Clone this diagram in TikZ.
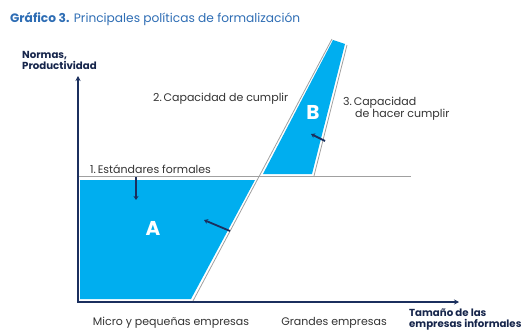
\documentclass[tikz,border=0pt]{standalone}
\usepackage{fontspec}
\setmainfont{Poppins}
\usepackage{tikz}
\usetikzlibrary{calc,positioning,arrows.meta}
\definecolor{chartblue}{HTML}{00AEEF}
\definecolor{chartnavy}{HTML}{1B2F5E}
\definecolor{titleblue}{HTML}{2E6DB4}
\definecolor{linegray}{HTML}{A0A0A0}
\definecolor{labelgray}{HTML}{333333}

\begin{document}
\begin{tikzpicture}[x=1pt, y=-1pt,
    lbl/.style={text=labelgray, font=\fontsize{11}{12}\selectfont, inner sep=0pt},
    axlbl/.style={text=chartnavy!80!black, font=\fontsize{10.2}{11.5}\selectfont\bfseries, inner sep=0pt, align=left},
    zone/.style={text=white, font=\fontsize{20}{20}\selectfont\bfseries},
    guide/.style={draw=linegray, line width=0.8pt},
    push/.style={draw=chartnavy, line width=1.8pt, -{Stealth[length=4pt,width=5pt]}}]
  \useasboundingbox (0,0) rectangle (523,332);

  % title
  \node[anchor=west, inner sep=0pt, text=titleblue, font=\fontsize{12.2}{14}\selectfont] (title) at (10,19)
    {\textbf{Gráfico 3.} Principales políticas de formalización};

  % shaded regions
  \fill[chartblue] (80,180) -- (255,180) -- (191,299) -- (80,299) -- cycle;
  \fill[chartblue] (333,40) -- (345,44) -- (312,174) -- (263,174) -- cycle;

  % guide lines
  \coordinate (stdL) at (78,176);
  \coordinate (stdR) at (411,176);
  \coordinate (capBot) at (193,301);
  \coordinate (capTop) at (332,39);
  \coordinate (enfTop) at (347,45);
  \coordinate (enfBot) at (314,176);
  \draw[guide] (stdL) -- (stdR);
  \draw[guide] (capBot) -- (capTop);
  \draw[guide] (enfTop) -- (enfBot);

  % axes
  \coordinate (ytop) at (78,76);
  \coordinate (xend) at (459,302);
  \draw[chartnavy, line width=1.3pt, {Stealth[length=5pt,width=5pt]}-{Stealth[length=5pt,width=5pt]}] (ytop) |- (xend);

  % shifts
  \coordinate (a1s) at (136,177);
  \coordinate (a1e) at (136,200);
  \coordinate (a2s) at (230,231);
  \coordinate (a2e) at (204,220);
  \coordinate (b1s) at (325,141);
  \coordinate (b1e) at (311,134);
  \draw[push] (a1s) -- (a1e);
  \draw[push] (a2s) -- (a2e);
  \draw[push] (b1s) -- (b1e);

  % zone letters
  \node[zone] (zoneA) at (153,228) {A};
  \node[zone] (zoneB) at (313,112) {B};

  % labels
  \node[lbl, anchor=west] (std) at (90,169) {1.\,Estándares formales};
  \node[lbl, anchor=west] (cap) at (153,99) {2.\,Capacidad de cumplir};
  \node[lbl, anchor=north west, align=left] (enf) at (343,97)
    {3.\,Capacidad\\\hspace{12pt}de hacer cumplir};
  \node[axlbl, anchor=west] (ylab) at (22,60.5) {Normas,\\Productividad};
  \node[axlbl, anchor=west] (xlab) at (409,319.5) {Tamaño de las\\empresas informales};
  \node[lbl] (micro) at (171,323) {Micro y pequeñas empresas};
  \node[lbl] (grandes) at (334,323) {Grandes empresas};
\end{tikzpicture}
\end{document}
